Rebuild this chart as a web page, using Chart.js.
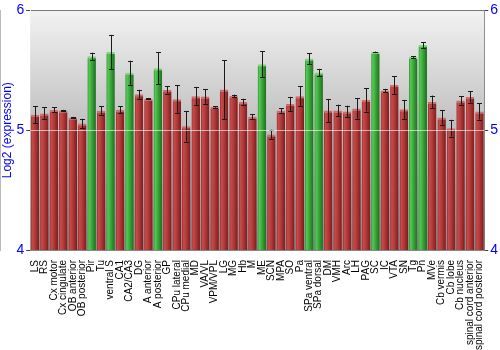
<!DOCTYPE html>
<html>
<head>
<meta charset="utf-8">
<script src="https://cdn.jsdelivr.net/npm/chart.js@4/dist/chart.umd.min.js"></script>
<style>
  body { margin: 0; background: #fff; }
  #wrap { width: 500px; height: 350px; }
</style>
</head>
<body>
<div id="wrap"><canvas id="expr" width="500" height="350"></canvas></div>
<script>
const regions = ["LS", "RS", "Cx motor", "Cx cingulate", "OB anterior", "OB posterior", "Pir", "Tu",
  "ventral S", "CA1", "CA2/CA3", "DG", "A anterior", "A posterior", "GP", "CPu lateral", "CPu medial",
  "MD", "VA/VL", "VPM/VPL", "LG", "MG", "Hb", "M", "ME", "SCN", "MPA", "SO", "Pa", "SPa ventral",
  "SPa dorsal", "DM", "VMH", "Arc", "LH", "PAG", "SC", "IC", "VTA", "SN", "Tg", "Pn", "MVe",
  "Cb vermis", "Cb lobe", "Cb nucleus", "spinal cord anterior", "spinal cord posterior"]

const log2expr = [5.13, 5.14, 5.17, 5.165, 5.107, 5.055, 5.617, 5.163,
  5.653, 5.17, 5.48, 5.30, 5.262, 5.518, 5.336, 5.259, 5.033,
  5.284, 5.281, 5.193, 5.339, 5.287, 5.237, 5.113, 5.551, 4.964, 5.165, 5.218, 5.284, 5.598,
  5.482, 5.165, 5.165, 5.157, 5.182, 5.253, 5.653, 5.331, 5.377, 5.174, 5.612, 5.711, 5.237,
  5.107, 5.017, 5.248, 5.278, 5.157]

const stderr = [0.07, 0.05, 0.02, 0.005, 0.004, 0.04, 0.03, 0.035,
  0.143, 0.03, 0.10, 0.037, 0.005, 0.135, 0.03, 0.117, 0.128,
  0.074, 0.06, 0.005, 0.246, 0.01, 0.025, 0.02, 0.106, 0.04, 0.02, 0.06, 0.083, 0.045,
  0.03, 0.096, 0.048, 0.048, 0.085, 0.097, 0.003, 0.014, 0.073, 0.079, 0.008, 0.023, 0.052,
  0.06, 0.07, 0.036, 0.048, 0.069]

// regions flagged as enriched get the green bars
const enriched = ["Pir", "ventral S", "CA2/CA3", "A posterior", "ME", "SPa ventral", "SPa dorsal",
  "SC", "Tg", "Pn"]

const yTicks = [4, 5, 6]

const isGreen = i => enriched.includes(regions[i])

function barFill(ctx){
    const chart = ctx.chart
    const green = isGreen(ctx.dataIndex)
    if(!chart.chartArea || !chart.scales.x) return green ? "#3aa83a" : "#b03838"
    const x = chart.scales.x.getPixelForValue(ctx.dataIndex)
    const half = 4.4
    const g = chart.ctx.createLinearGradient(x - half, 0, x + half, 0)
    if(green){
        g.addColorStop(0, "#2a8a2a")
        g.addColorStop(0.2, "#58c858")
        g.addColorStop(0.5, "#3aa83a")
        g.addColorStop(1, "#1c6c1c")
    }else{
        g.addColorStop(0, "#942828")
        g.addColorStop(0.2, "#c64c4c")
        g.addColorStop(0.5, "#b23a3a")
        g.addColorStop(1, "#7c1a1a")
    }
    return g
}

// plot background and error bars
const decor = {
    id: "decor",
    beforeDatasetsDraw(chart){
        const {ctx, chartArea: a} = chart
        const g = ctx.createLinearGradient(0, a.top, 0, a.bottom)
        g.addColorStop(0, "#f2f2f2")
        g.addColorStop(0.5, "#bebebe")
        g.addColorStop(1, "#8c8c8c")
        ctx.save()
        ctx.fillStyle = g
        ctx.fillRect(a.left, a.top, a.right - a.left, a.bottom - a.top)
        ctx.restore()
    },
    afterDatasetsDraw(chart){
        const ctx = chart.ctx
        const y = chart.scales.y
        const meta = chart.getDatasetMeta(0)
        ctx.save()
        ctx.strokeStyle = "#1a1a1a"
        ctx.lineWidth = 1
        meta.data.forEach((bar, i) => {
            const x = Math.round(bar.x) + 0.5
            const hi = y.getPixelForValue(log2expr[i] + stderr[i])
            const lo = y.getPixelForValue(log2expr[i] - stderr[i])
            ctx.beginPath()
            ctx.moveTo(x, hi); ctx.lineTo(x, lo)
            ctx.moveTo(x - 2.5, Math.round(hi) + 0.5); ctx.lineTo(x + 2.5, Math.round(hi) + 0.5)
            ctx.moveTo(x - 2.5, Math.round(lo) + 0.5); ctx.lineTo(x + 2.5, Math.round(lo) + 0.5)
            ctx.stroke()
        })
        ctx.restore()
    }
}

const tickFont = {family: "'Liberation Sans', Arial, sans-serif", size: 14}

new Chart(document.getElementById("expr"), {
    type: "bar",
    data: {
        labels: regions,
        datasets: [{
            label: "Log2 (expression)",
            data: log2expr,
            backgroundColor: barFill,
            borderColor: ctx => isGreen(ctx.dataIndex) ? "#7ad87a" : "#d26a6a",
            borderWidth: {top: 2, left: 0, right: 0, bottom: 0},
            borderSkipped: false,
            barPercentage: 0.9,
            categoryPercentage: 1.0
        }]
    },
    options: {
        responsive: false,
        devicePixelRatio: 1,
        animation: false,
        layout: {padding: {top: 1, right: 0, left: 0, bottom: 0}},
        plugins: {
            legend: {display: false},
            tooltip: {enabled: false}
        },
        scales: {
            x: {
                afterFit: axis => { axis.height = 100 },
                grid: {display: false},
                border: {display: true, color: "#888"},
                ticks: {
                    autoSkip: false,
                    maxRotation: 90,
                    minRotation: 90,
                    padding: 2,
                    color: "#000",
                    font: {family: "'Liberation Sans', Arial, sans-serif", size: 10}
                }
            },
            y: {
                position: "left",
                min: 4,
                max: 6,
                afterBuildTicks: axis => { axis.ticks = yTicks.map(v => ({value: v})) },
                border: {color: "#777"},
                grid: {
                    z: 1,
                    tickLength: 4,
                    tickColor: "#444",
                    color: ctx => ctx.tick && ctx.tick.value === 6 ? "#777"
                        : ctx.tick && ctx.tick.value === 5 ? "rgba(255,255,255,0.6)" : "rgba(0,0,0,0)"
                },
                ticks: {color: "#0000ff", font: tickFont, padding: 2},
                title: {
                    display: true,
                    text: "Log2 (expression)",
                    color: "#0000ff",
                    font: {family: "'Liberation Sans', Arial, sans-serif", size: 12},
                    padding: 0
                }
            },
            y2: {
                position: "right",
                min: 4,
                max: 6,
                afterBuildTicks: axis => { axis.ticks = yTicks.map(v => ({value: v})) },
                border: {color: "#777"},
                grid: {drawOnChartArea: false, tickLength: 4, color: "#444"},
                ticks: {color: "#0000ff", font: tickFont, padding: 2}
            }
        }
    },
    plugins: [decor]
})
</script>
</body>
</html>
